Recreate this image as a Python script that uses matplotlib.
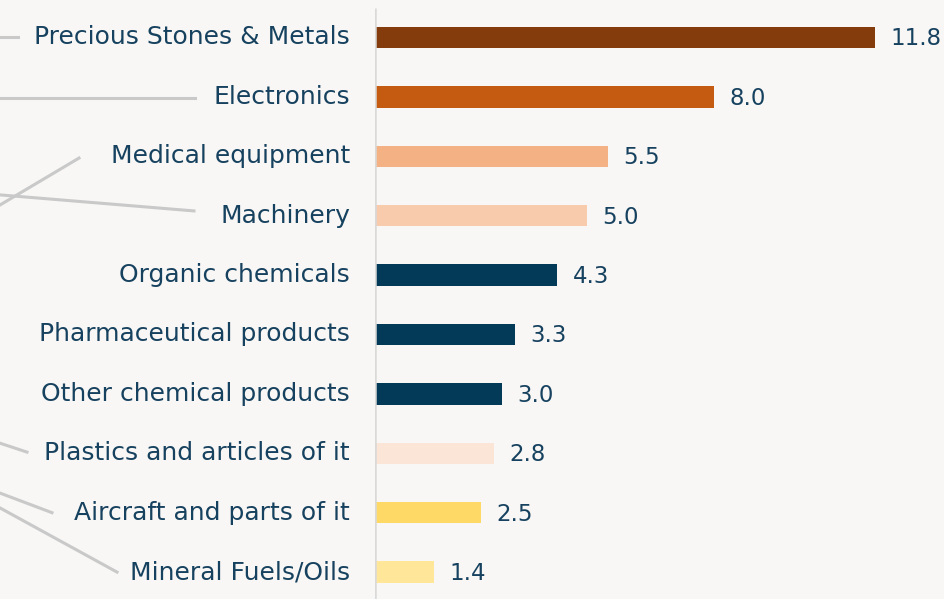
import matplotlib.pyplot as plt
from matplotlib.lines import Line2D
import matplotlib.transforms as mtransforms

categories = ["Precious Stones & Metals", "Electronics", "Medical equipment", "Machinery",
              "Organic chemicals", "Pharmaceutical products", "Other chemical products",
              "Plastics and articles of it", "Aircraft and parts of it", "Mineral Fuels/Oils"]
values = [11.8, 8.0, 5.5, 5.0, 4.3, 3.3, 3.0, 2.8, 2.5, 1.4]
colors = ["#843C0C", "#C55A11", "#F4B183", "#F8CBAD", "#023A57", "#023A57", "#023A57",
          "#FBE5D6", "#FFD966", "#FFE699"]

# leader lines coming in from the left edge: (start y at left edge, end x in px, end y)
leaders = [(0.0, 18, 0.0), (1.02, 195, 1.02), (2.82, 79, 2.03), (2.65, 194, 2.92),
           (6.83, 27, 6.98), (7.67, 52, 8.0), (7.92, 117, 9.0)]

bg = "#F8F7F5"
txt = "#17425F"
plt.rcParams['font.family'] = ['DejaVu Sans']

fig = plt.figure(figsize=(9.45, 5.99), dpi=100, facecolor=bg)
ax = fig.add_axes([375 / 945, 0, 570 / 945, 1])
ax.set_facecolor(bg)

y = list(range(len(categories)))
ax.barh(y, values, height=0.36, color=colors, zorder=2)
ax.set_xlim(0, 570 / 42.4)
ax.set_ylim(-0.631 + 599 / 59.4, -0.631)
ax.vlines(0, -0.5, 10, color="#D9D9D9", lw=1.8, zorder=3)

for i, (c, v) in enumerate(zip(categories, values)):
    ax.annotate(f"{v:.1f}", (v, i), xytext=(11, -1), textcoords="offset points",
                va="center", ha="left", fontsize=16.5, color=txt, annotation_clip=False)
    ax.annotate(c, (0, i), xytext=(-18, 0), textcoords="offset points",
                va="center", ha="right", fontsize=18, color=txt, annotation_clip=False)

for a in ax.spines.values():
    a.set_visible(False)
ax.set_xticks([])
ax.set_yticks([])

# leader lines: x in figure pixels, y in data units
tr = mtransforms.blended_transform_factory(
    mtransforms.Affine2D().scale(1 / 945, 1) + fig.transFigure, ax.transData)
for y0, x1, y1 in leaders:
    fig.add_artist(Line2D([0, x1], [y0, y1], transform=tr, color="#C9C9C9", lw=2.2))

fig.savefig("out.png", dpi=100, facecolor=bg)
